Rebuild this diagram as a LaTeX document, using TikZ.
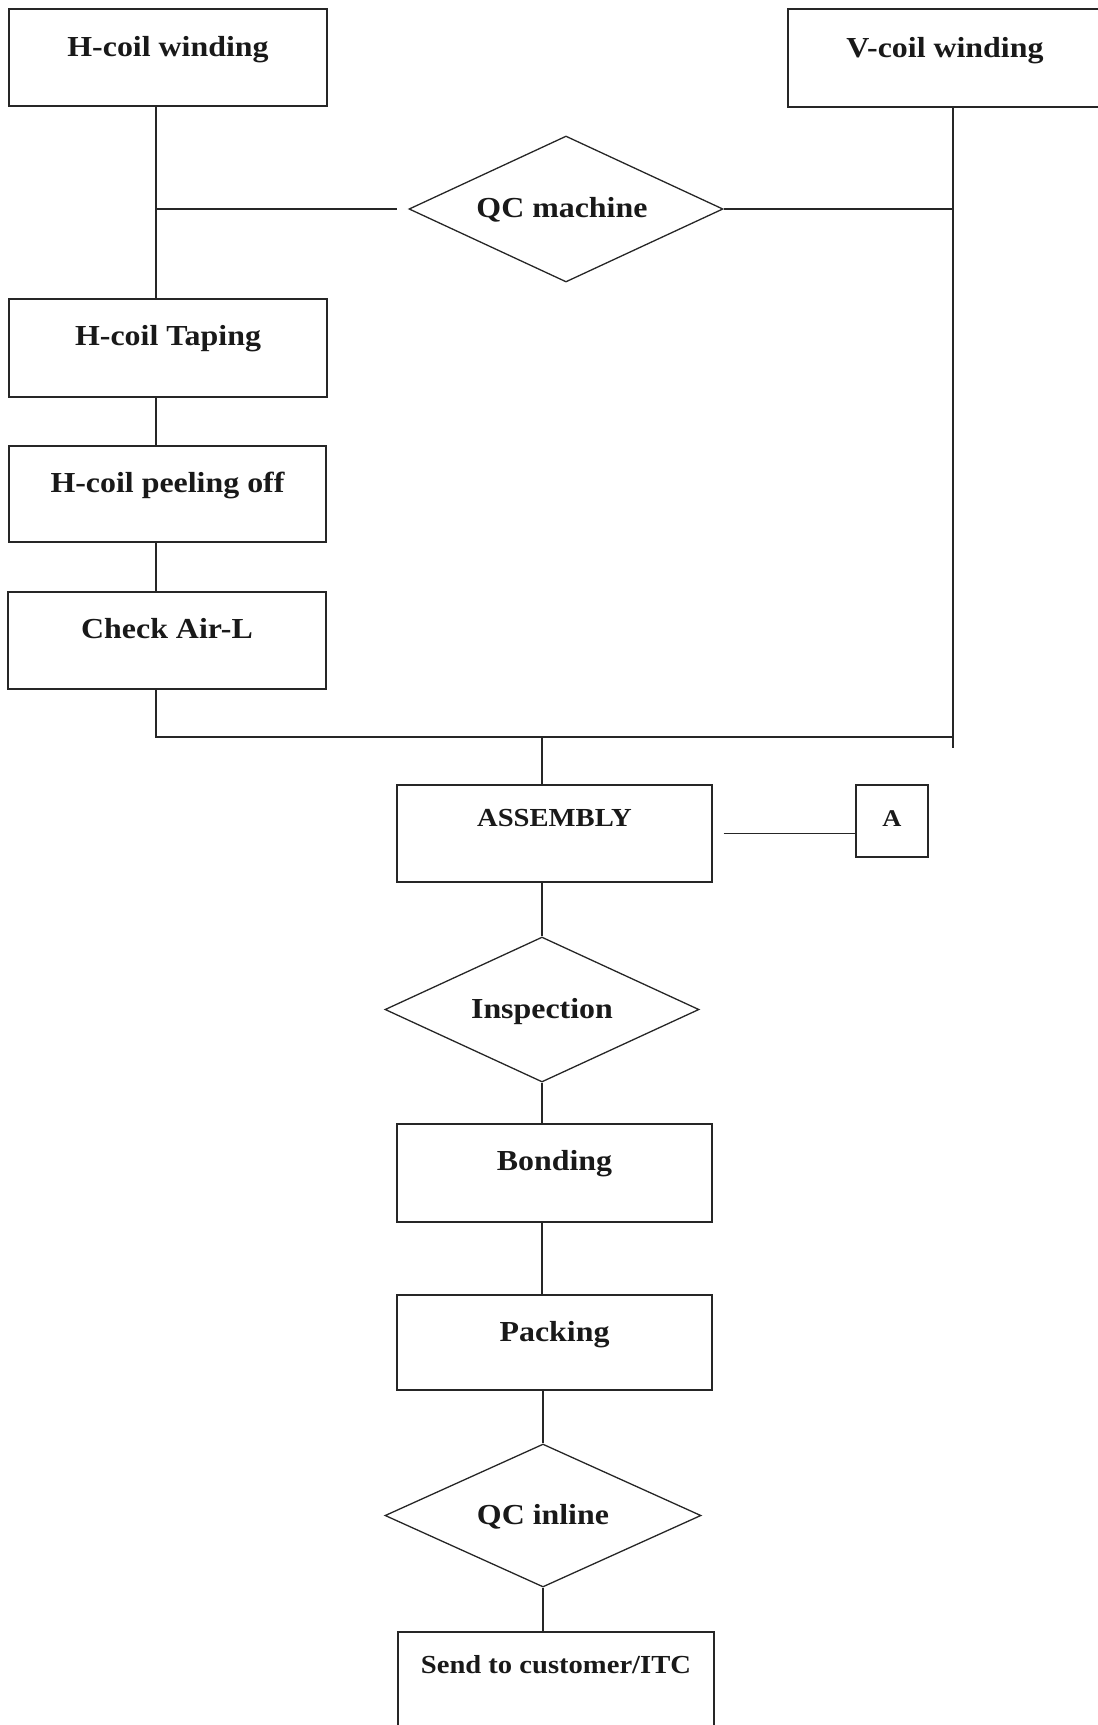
\documentclass[tikz,border=0pt]{standalone}
\usepackage{fontspec}
\setmainfont{Liberation Serif}[FakeStretch=1.1]
\usetikzlibrary{shapes.geometric,calc}
\tikzset{
  ln/.style={draw=black!85, line width=1.3pt},
  box/.style={ln, rectangle, inner sep=0pt},
  dia/.style={ln, diamond, inner sep=0pt, aspect=2.15},
  lbl/.style={anchor=base, inner sep=0pt, text=black!90, font=\fontsize{29}{34}\selectfont\bfseries},
  slbl/.style={lbl, font=\fontsize{26}{30}\selectfont\bfseries},
  alb/.style={lbl, font=\fontsize{24}{28}\selectfont\bfseries}
}
\begin{document}
\begin{tikzpicture}[x=1pt,y=-1pt]
\useasboundingbox (0,0) rectangle (1098,1725);
% boxes
\node[box, minimum width=318pt, minimum height=97pt] (hw) at (168,57.5) {};
\node[box, minimum width=312pt, minimum height=98pt] (vw) at (944,58) {};
\node[box, minimum width=318pt, minimum height=98pt] (ht) at (168,348) {};
\node[box, minimum width=317pt, minimum height=96pt] (hp) at (167.5,494) {};
\node[box, minimum width=318pt, minimum height=97pt] (ca) at (167,640.5) {};
\node[box, minimum width=315pt, minimum height=97pt] (asm) at (554.5,833.5) {};
\node[box, minimum width=72pt, minimum height=72pt] (A) at (892,821) {};
\node[box, minimum width=315pt, minimum height=98pt] (bond) at (554.5,1173) {};
\node[box, minimum width=315pt, minimum height=95pt] (pack) at (554.5,1342.5) {};
\node[box, minimum width=316pt, minimum height=108pt] (send) at (556,1686) {};
% diamonds
\node[dia, minimum width=314pt, minimum height=146pt] (qcm) at (566,209) {};
\node[dia, minimum width=314pt, minimum height=145pt] (insp) at (542,1009.5) {};
\node[dia, minimum width=316pt, minimum height=143pt] (qci) at (543,1515.5) {};
% labels
\node[lbl] (thw) at ($(hw.north)+(0,48)$) {H-coil winding};
\node[lbl] (tvw) at ($(vw.north)+(1,49)$) {V-coil winding};
\node[lbl] (tht) at ($(ht.north)+(0,47)$) {H-coil Taping};
\node[lbl] (thp) at ($(hp.north)+(0,47)$) {H-coil peeling off};
\node[lbl] (tca) at ($(ca.north)+(0,47)$) {Check Air-L};
\node[slbl] (tasm) at ($(asm.north)+(0,42)$) {ASSEMBLY};
\node[alb] (tA) at ($(A.north)+(0,42)$) {A};
\node[lbl] (tbond) at ($(bond.north)+(0,47)$) {Bonding};
\node[lbl] (tpack) at ($(pack.north)+(0,47)$) {Packing};
\node[slbl] (tsend) at ($(send.north)+(0,42)$) {Send to customer/ITC};
\node[lbl] (tqcm) at ($(qcm.center)+(-4,8)$) {QC machine};
\node[lbl] (tinsp) at ($(insp.center)+(0,9)$) {Inspection};
\node[lbl] (tqci) at ($(qci.center)+(0,9)$) {QC inline};
% junction coordinates
\coordinate (jl) at (156,209);
\coordinate (jr) at (953,209);
\coordinate (bl) at (156,737);
\coordinate (br) at (953,737);
\coordinate (bend) at (953,748);
\coordinate (bm) at (542,737);
% connectors
\draw[ln] (hw.south -| jl) -- (ht.north -| jl);
\draw[ln] (jl) -- ($(qcm.west)+(-11,0)$);
\draw[ln] (qcm.east) -- (jr);
\draw[ln] (vw.south -| jr) -- (bend);
\draw[ln] (ht.south -| jl) -- (hp.north -| jl);
\draw[ln] (hp.south -| jl) -- (ca.north -| jl);
\draw[ln] (ca.south -| bl) -- (bl) -- (br);
\draw[ln] (bm) -- (asm.north -| bm);
\draw[ln] ($(asm.east)+(11,0)$) -- (A.west |- asm.east);
\draw[ln] (asm.south -| bm) -- (insp.north);
\draw[ln] (insp.south) -- (bond.north -| insp.south);
\draw[ln] (bond.south -| insp.south) -- (pack.north -| insp.south);
\draw[ln] (pack.south -| qci.north) -- (qci.north);
\draw[ln] (qci.south) -- (send.north -| qci.south);
\end{tikzpicture}
\end{document}
